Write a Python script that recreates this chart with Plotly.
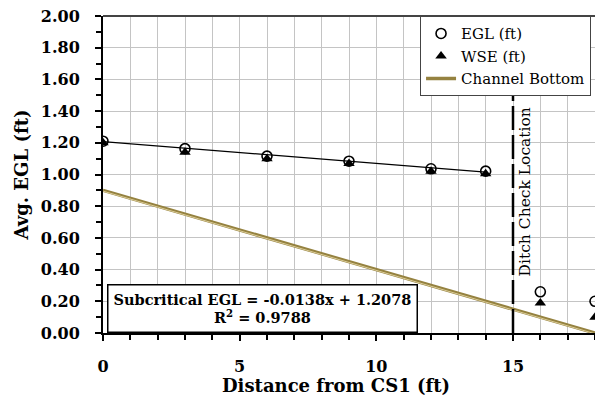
import plotly.graph_objects as go

# ---- data ----
distance = [0, 3, 6, 9, 12, 14, 16, 18]
egl = [1.21, 1.163, 1.116, 1.084, 1.036, 1.021, 0.26, 0.20]
wse = [1.20, 1.14, 1.10, 1.07, 1.02, 1.005, 0.19, 0.10]
channel_x = [0, 18]
channel_y = [0.90, 0.0]
fit_slope = -0.0138
fit_intercept = 1.2078
fit_r2 = 0.9788
fit_x = [0, 14]
ditch_x = 15
x_ticks = [0, 5, 10, 15]
y_ticks = [0.0, 0.2, 0.4, 0.6, 0.8, 1.0, 1.2, 1.4, 1.6, 1.8, 2.0]

FONT = "DejaVu Serif"

fig = go.Figure()

# channel bottom (double-tone line)
fig.add_trace(go.Scatter(x=channel_x, y=channel_y, mode="lines", name="Channel Bottom",
                         line=dict(color="#958240", width=3.4)))
fig.add_trace(go.Scatter(x=channel_x, y=[v - 0.005 for v in channel_y], mode="lines",
                         showlegend=False, hoverinfo="skip",
                         line=dict(color="#dccd98", width=1.0)))

# trend line
fig.add_trace(go.Scatter(x=fit_x, y=[fit_intercept + fit_slope * v for v in fit_x],
                         mode="lines", showlegend=False,
                         line=dict(color="black", width=1.2)))

fig.add_trace(go.Scatter(x=distance, y=egl, mode="markers", name="EGL (ft)",
                         marker=dict(symbol="circle-open", size=10, color="black",
                                     line=dict(width=1.6, color="black"))))
fig.add_trace(go.Scatter(x=distance, y=wse, mode="markers", name="WSE (ft)",
                         marker=dict(symbol="triangle-up", size=10, color="black")))

# legend order: EGL, WSE, Channel
fig.data[3].legendrank = 1
fig.data[4].legendrank = 2
fig.data[0].legendrank = 3

# ditch check dashed line
fig.add_shape(type="line", x0=ditch_x, x1=ditch_x, y0=0, y1=1.57, xref="x", yref="y",
              line=dict(color="black", width=2.5, dash="24px,5px"))
fig.add_annotation(x=ditch_x + 0.42, y=0.89, xref="x", yref="y", text="Ditch Check Location",
                   textangle=-90, showarrow=False, font=dict(family=FONT, size=15.5, color="black"))

# top border
fig.add_shape(type="line", x0=0, x1=1, y0=1, y1=1, xref="paper", yref="paper",
              line=dict(color="#444444", width=2))

# equation box
fig.add_annotation(x=5.85, y=0.152, xref="x", yref="y",
                   text=f"Subcritical EGL = {fit_slope:.4f}x + {fit_intercept:.4f}<br>R<sup>2</sup> = {fit_r2:.4f}",
                   showarrow=False, align="center", bgcolor="white", bordercolor="black",
                   borderwidth=1.5, borderpad=5,
                   font=dict(family=FONT, size=14.5, color="black", weight="bold"))

# x title
fig.add_annotation(x=0.474, y=-0.165, xref="paper", yref="paper", yanchor="middle",
                   text="Distance from CS1 (ft)", showarrow=False,
                   font=dict(family=FONT, size=18, color="black", weight="bold"))

fig.update_layout(
    width=595, height=398,
    margin=dict(l=103, r=0, t=16, b=65),
    plot_bgcolor="white", paper_bgcolor="white",
    font=dict(family=FONT, color="black"),
    showlegend=True,
    legend=dict(x=0.644, y=1, xanchor="left", yanchor="top", bgcolor="white",
                bordercolor="#444444", borderwidth=1.2, tracegroupgap=0,
                font=dict(family=FONT, size=15, color="black"), itemwidth=30),
    xaxis=dict(range=[0, 18], tickvals=x_ticks, ticks="outside", ticklen=6, tickwidth=2,
               tickcolor="black", showline=True, linecolor="black", linewidth=2,
               showgrid=True, gridcolor="#c4c4c4", gridwidth=1.3, zeroline=False,
               tickfont=dict(family=FONT, size=16, color="black", weight="bold"),
               ticklabelstandoff=12,
               minor=dict(dtick=1, ticks="outside", ticklen=5, tickwidth=2, tickcolor="black",
                          showgrid=True, gridcolor="#c4c4c4", gridwidth=1.3)),
    yaxis=dict(range=[0, 2.0], tickvals=y_ticks, tickformat=".2f", ticks="outside", ticklen=6,
               tickwidth=2, tickcolor="black", showline=True, linecolor="black", linewidth=2,
               showgrid=True, gridcolor="#c4c4c4", gridwidth=1.3, zeroline=False,
               tickfont=dict(family=FONT, size=16, color="black", weight="bold"),
               ticklabelstandoff=12,
               title=dict(text="Avg. EGL (ft)", standoff=8,
                          font=dict(family=FONT, size=18, color="black", weight="bold")),
               minor=dict(dtick=0.1, ticks="outside", ticklen=5, tickwidth=2, tickcolor="black",
                          showgrid=False)),
)

fig.write_html("out.html")
